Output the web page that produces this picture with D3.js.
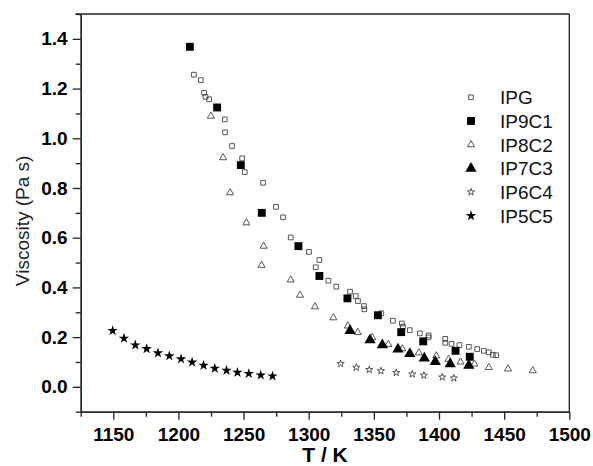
<!DOCTYPE html>
<html>
<head>
<meta charset="utf-8">
<script src="https://cdn.jsdelivr.net/npm/d3@7"></script>
<style>
  body { margin: 0; background: #fff; }
  text { font-family: Arial, "Liberation Sans", sans-serif; }
</style>
</head>
<body>
<div class="canvas"></div>
<script>
// data: [T (K), viscosity (Pa s)]
const seriesNames = ["IPG", "IP9C1", "IP8C2", "IP7C3", "IP6C4", "IP5C5"];

const ipg = [
  [1211.9, 1.256], [1217.2, 1.234], [1219.7, 1.183], [1220.8, 1.167], [1223.6, 1.157],
  [1235.6, 1.076], [1235.8, 1.024], [1241.2, 0.969], [1248.9, 0.919], [1250.9, 0.864],
  [1265.0, 0.821], [1274.9, 0.724], [1280.3, 0.682], [1286.2, 0.601], [1300.2, 0.543],
  [1305.4, 0.481], [1308.2, 0.510], [1315.1, 0.427], [1321.2, 0.403], [1331.7, 0.383],
  [1336.1, 0.365], [1337.8, 0.345], [1342.4, 0.325], [1342.7, 0.312], [1355.7, 0.296],
  [1364.6, 0.266], [1371.5, 0.255], [1372.3, 0.242], [1377.6, 0.228], [1385.3, 0.215],
  [1392.0, 0.207], [1392.0, 0.199], [1404.8, 0.193], [1404.8, 0.177], [1409.6, 0.173],
  [1415.7, 0.168], [1422.9, 0.161], [1429.3, 0.152], [1434.4, 0.145], [1438.2, 0.139],
  [1441.3, 0.129], [1443.9, 0.127]
];
const ip9c1 = [
  [1208.8, 1.368], [1229.7, 1.124], [1247.9, 0.892], [1264.0, 0.700], [1292.1, 0.566],
  [1308.2, 0.446], [1329.7, 0.356], [1353.1, 0.288], [1371.0, 0.220], [1387.9, 0.183],
  [1412.7, 0.145], [1423.6, 0.121]
];
const ip8c2 = [
  [1224.9, 1.089], [1234.3, 0.922], [1239.7, 0.781], [1252.2, 0.660], [1265.4, 0.566],
  [1263.8, 0.489], [1286.2, 0.430], [1293.3, 0.369], [1304.8, 0.322], [1318.9, 0.278],
  [1330.1, 0.245], [1337.6, 0.219], [1348.8, 0.198], [1361.1, 0.171], [1371.8, 0.153],
  [1384.5, 0.137], [1397.9, 0.125], [1407.3, 0.111], [1416.5, 0.100], [1427.2, 0.092],
  [1438.2, 0.078], [1453.0, 0.072], [1472.0, 0.065]
];
const ip7c3 = [
  [1331.7, 0.226], [1347.0, 0.188], [1356.5, 0.168], [1368.5, 0.151], [1377.6, 0.133],
  [1388.7, 0.115], [1397.1, 0.101], [1408.6, 0.092], [1422.9, 0.086]
];
const ip6c4 = [
  [1324.5, 0.093], [1336.6, 0.078], [1346.5, 0.069], [1355.4, 0.064], [1367.2, 0.057],
  [1379.5, 0.051], [1388.4, 0.046], [1402.5, 0.039], [1411.4, 0.035]
];
const ip5c5 = [
  [1149.5, 0.226], [1158.2, 0.195], [1166.9, 0.168], [1175.6, 0.153], [1184.3, 0.136],
  [1193.0, 0.124], [1202.0, 0.112], [1210.5, 0.099], [1219.3, 0.086], [1227.9, 0.074],
  [1236.9, 0.066], [1245.3, 0.058], [1254.0, 0.053], [1263.2, 0.047], [1272.2, 0.043]
];

const xMajor = [1150, 1200, 1250, 1300, 1350, 1400, 1450, 1500];
const xMinor = [1125, 1175, 1225, 1275, 1325, 1375, 1425, 1475];
const yMajor = [0, 0.2, 0.4, 0.6, 0.8, 1.0, 1.2, 1.4];
const yMinor = [-0.1, 0.1, 0.3, 0.5, 0.7, 0.9, 1.1, 1.3, 1.5];

const W = 593, H = 466;
const mLeft = 80.7, mRight = 569.3, mTop = 14, mBottom = 411.7;

const svg = d3.select(".canvas").append("svg").attr("width", W).attr("height", H);

const x = d3.scaleLinear().domain([1125, 1500]).range([mLeft, mRight]);
const y = d3.scaleLinear().domain([-0.1, 1.5]).range([mBottom, mTop]);

// marker styles per series
const styles = [
  { type: d3.symbolSquare, size: 22, fill: "none", stroke: "#444", sw: 0.9 },
  { type: d3.symbolSquare, size: 62, fill: "#000", stroke: "none", sw: 0 },
  { type: d3.symbolTriangle, size: 22, fill: "none", stroke: "#444", sw: 0.9 },
  { type: d3.symbolTriangle, size: 55, fill: "#000", stroke: "none", sw: 0 },
  { type: d3.symbolStar, size: 16, fill: "none", stroke: "#444", sw: 0.9 },
  { type: d3.symbolStar, size: 34, fill: "#000", stroke: "none", sw: 0 }
];
const allSeries = [ipg, ip9c1, ip8c2, ip7c3, ip6c4, ip5c5];

// frame
svg.append("line").attr("x1", mLeft - 5).attr("x2", mRight).attr("y1", mTop).attr("y2", mTop)
  .attr("stroke", "#222").attr("stroke-width", 1.3);
svg.append("line").attr("x1", mRight).attr("x2", mRight).attr("y1", mTop).attr("y2", mBottom)
  .attr("stroke", "#222").attr("stroke-width", 1.3);

// axes
const styleAxis = (g) => {
  g.select(".domain").attr("stroke", "#222").attr("stroke-width", 1.3);
  g.selectAll(".tick line").attr("stroke", "#222").attr("stroke-width", 1.3);
  g.selectAll("text").attr("fill", "#000").style("font-size", "19px").style("font-weight", "bold");
};

svg.append("g").attr("transform", `translate(0,${mBottom})`)
  .call(d3.axisBottom(x).tickValues(xMinor).tickSize(5).tickFormat("").tickSizeOuter(0))
  .call(styleAxis);
svg.append("g").attr("transform", `translate(0,${mBottom})`)
  .call(d3.axisBottom(x).tickValues(xMajor).tickSize(8).tickPadding(8).tickFormat(d3.format("d")).tickSizeOuter(0))
  .call(styleAxis);

svg.append("g").attr("transform", `translate(${mLeft},0)`)
  .call(d3.axisLeft(y).tickValues(yMinor).tickSize(5).tickFormat("").tickSizeOuter(0))
  .call(styleAxis);
svg.append("g").attr("transform", `translate(${mLeft},0)`)
  .call(d3.axisLeft(y).tickValues(yMajor).tickSize(8).tickPadding(5).tickFormat(d3.format(".1f")).tickSizeOuter(0))
  .call(styleAxis);

// axis titles
svg.append("text")
  .attr("x", (mLeft + mRight) / 2).attr("y", 462)
  .attr("text-anchor", "middle")
  .style("font-size", "21px").style("font-weight", "bold")
  .text("T / K");

svg.append("text")
  .attr("transform", `translate(29,${(mTop + mBottom) / 2 + 8}) rotate(-90)`)
  .attr("text-anchor", "middle")
  .style("font-size", "19px")
  .attr("fill", "#222")
  .text("Viscosity (Pa s)");

// points
allSeries.forEach((data, i) => {
  const s = styles[i];
  svg.append("g").selectAll("path")
    .data(data)
    .join("path")
    .attr("d", d3.symbol().type(s.type).size(s.size))
    .attr("transform", (d) => `translate(${x(d[0])},${y(d[1])})`)
    .attr("fill", s.fill)
    .attr("stroke", s.stroke)
    .attr("stroke-width", s.sw);
});

// legend
const legend = svg.append("g").attr("transform", "translate(471,97.3)");
seriesNames.forEach((name, i) => {
  const s = styles[i];
  const row = legend.append("g").attr("transform", `translate(0,${i * 23.7})`);
  row.append("path")
    .attr("d", d3.symbol().type(s.type).size(s.size))
    .attr("fill", s.fill)
    .attr("stroke", s.stroke)
    .attr("stroke-width", s.sw);
  row.append("text")
    .attr("x", 29).attr("y", 7)
    .style("font-size", "19px")
    .attr("fill", "#111")
    .text(name);
});
</script>
</body>
</html>
